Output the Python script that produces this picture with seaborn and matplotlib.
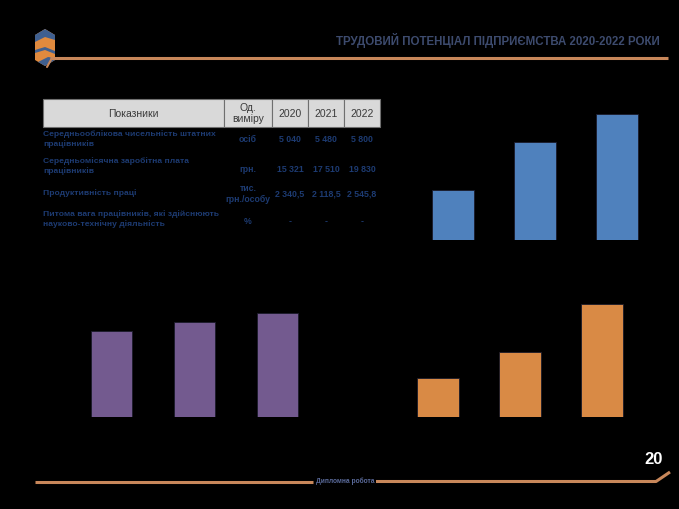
import matplotlib
matplotlib.use("Agg")
import matplotlib.pyplot as plt
import seaborn as sns
import pandas as pd
from matplotlib.patches import Rectangle, Polygon

sns.set_theme(style="white")
plt.rcParams['font.family'] = ['Liberation Sans', 'DejaVu Sans']

# ---- data ----
years = ["2020", "2021", "2022"]
blue_values = [50, 98, 126]
purple_values = [86, 95.6, 104.6]
orange_values = [39, 65.6, 113]

title = "ТРУДОВИЙ ПОТЕНЦІАЛ ПІДПРИЄМСТВА 2020-2022 РОКИ"
header = ["Показники", "Од.\nвиміру", "2020", "2021", "2022"]
row_names = ["Середньооблікова чисельність штатних\nпрацівників",
             "Середньомісячна заробітна плата\nпрацівників",
             "Продуктивність праці",
             "Питома вага працівників, які здійснюють\nнауково-технічну діяльність"]
row_units = ["осіб", "грн.", "тис.\nгрн./особу", "%"]
row_2020 = ["5 040", "15 321", "2 340,5", "-"]
row_2021 = ["5 480", "17 510", "2 118,5", "-"]
row_2022 = ["5 800", "19 830", "2 545,8", "-"]
footer_text = "Дипломна робота"
page_no = "20"

W, H = 679, 509
fig = plt.figure(figsize=(W / 100, H / 100), dpi=100, facecolor="black")

deco = fig.add_axes([0, 0, 1, 1])
deco.set_xlim(0, W)
deco.set_ylim(H, 0)
deco.axis("off")
deco.set_facecolor("none")

LINE = "#c8875a"
NAVY = "#1d3b72"

# header line + logo
deco.plot([50, 668], [58, 58], color=LINE, lw=2.2, solid_capstyle="butt")
hexv = [(45, 29), (55, 35), (55, 60), (45, 66), (35, 60), (35, 35)]
deco.add_patch(Polygon(hexv, closed=True, facecolor="#e08a3e", edgecolor="none"))
deco.add_patch(Polygon([(45, 29), (55, 35), (55, 40), (45, 37), (35, 42), (35, 35)],
                       closed=True, facecolor="#3f5f8f", edgecolor="none"))
deco.add_patch(Polygon([(35, 50), (45, 47), (55, 51), (55, 54), (45, 50), (35, 53)],
                       closed=True, facecolor="#3f5f8f", edgecolor="none"))
deco.add_patch(Polygon([(38, 62), (48, 57), (55, 58), (55, 60), (45, 66)],
                       closed=True, facecolor="#3f5f8f", edgecolor="none"))
deco.plot([47, 52], [67, 58], color=LINE, lw=1.5)
deco.text(660, 40, title, color="#3d4b6e", fontsize=8.3, fontweight="bold",
          ha="right", va="center")

# footer
deco.plot([35, 313], [481.5, 481.5], color=LINE, lw=2.2, solid_capstyle="butt")
deco.plot([376, 656, 670], [481.5, 481.5, 472], color=LINE, lw=2.2, solid_capstyle="butt")
deco.text(345, 481.5, footer_text, color="#5a6a9a", fontsize=4.8, fontweight="bold",
          ha="center", va="center")
deco.text(654, 460, page_no, color="white", fontsize=12, fontweight="bold",
          ha="center", va="center")

# table
cols = [43, 224, 272, 308, 344, 380]
ht, hb = 99, 127
for i in range(5):
    deco.add_patch(Rectangle((cols[i], ht), cols[i + 1] - cols[i], hb - ht,
                             facecolor="#d9d9d9", edgecolor="#6f6f6f", lw=0.8))
    cx = (cols[i] + cols[i + 1]) / 2
    deco.text(cx, (ht + hb) / 2 + 0.5, header[i], color="#3a3a3a", fontsize=7.5,
              ha="center", va="center", linespacing=1.1)

row_y = [139, 166, 193, 219]
val_cols = [row_units, row_2020, row_2021, row_2022]
for r, y in enumerate(row_y):
    deco.text(43, y, row_names[r], color=NAVY, fontsize=6.1, fontweight="bold",
              ha="left", va="center", linespacing=1.35)
    for c, col in enumerate(val_cols):
        cx = (cols[c + 1] + cols[c + 2]) / 2
        yy = y + (3 if r in (1, 3) else 1)
        deco.text(cx, yy, col[r], color=NAVY, fontsize=6.3, fontweight="bold",
                  ha="center", va="center", linespacing=1.3)


def bar_axes(left, right, bottom, top):
    return fig.add_axes([left / W, 1 - bottom / H, (right - left) / W, (bottom - top) / H])


def draw(ax, values, color, width):
    df = pd.DataFrame({"year": years, "value": values})
    sns.barplot(data=df, x="year", y="value", ax=ax, color=color, width=width,
                saturation=1, edgecolor="#1a1a2a", linewidth=0.6)
    ax.set_xlim(-0.5, 2.5)
    ax.set_ylim(0, 140)
    ax.axis("off")
    ax.set_facecolor("none")


ax_b = bar_axes(412, 658, 240, 100)
draw(ax_b, blue_values, "#4f81bd", 0.51)
ax_p = bar_axes(70, 319, 417.3, 277.3)
draw(ax_p, purple_values, "#735a8f", 0.506)
ax_o = bar_axes(396.8, 643, 417.3, 277.3)
draw(ax_o, orange_values, "#d98a45", 0.51)

fig.savefig("out.png", dpi=100, facecolor="black")
